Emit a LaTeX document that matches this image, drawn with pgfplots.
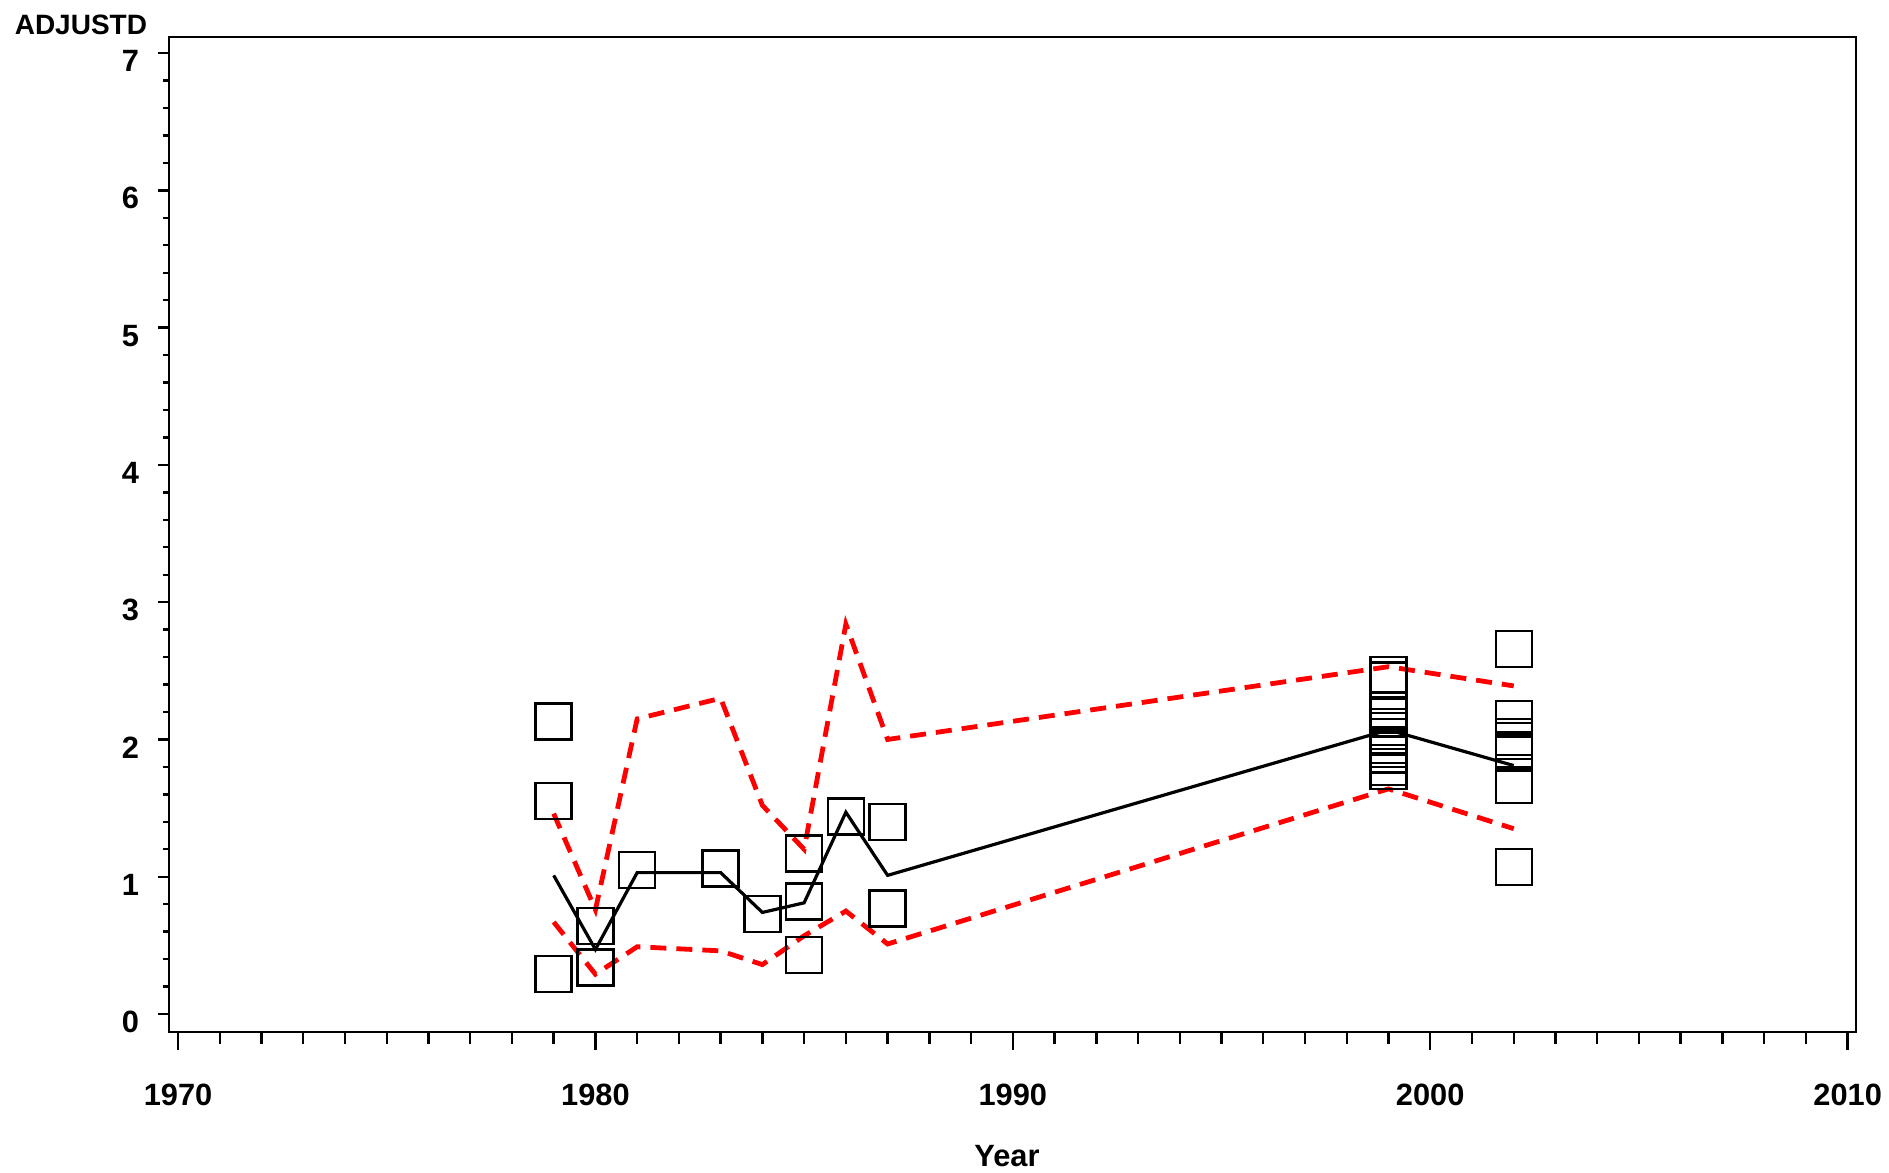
\documentclass[border=0pt]{standalone}
\usepackage{fontspec}
\setmainfont{Liberation Sans}
\usepackage{pgfplots}
\pgfplotsset{compat=1.18}
\begin{document}
\begin{tikzpicture}[x=1pt,y=1pt]
\path[use as bounding box] (0,0) rectangle (472.25,293);
\pgfplotsset{common/.style={
  at={(42.25pt,35pt)}, anchor=south west, scale only axis,
  width=421.75pt, height=248.75pt,
  xmin=1969.784, xmax=2010.2, ymin=-0.131, ymax=7.117,
  tick align=outside,
  /pgf/number format/assume math mode=true,
  /pgf/number format/1000 sep={},
  ticklabel style={font=\bfseries\fontsize{7.7}{8}\selectfont},
  tick style={line width=0.6pt, black},
}}
% axis with data and x ticks
\begin{axis}[common,
  axis line style={line width=0.7pt},
  xtick={1970,1980,1990,2000,2010}, minor x tick num=9, xtick pos=bottom,
  ytick=\empty,
  major tick length=4.5pt, minor tick length=3pt,
  xticklabel style={yshift=-5pt},
  clip=false]
% upper limit
\addplot[red, line width=1.2pt, dash pattern=on 4pt off 2.5pt] coordinates {
(1979,1.46) (1980,0.76) (1981,2.15) (1983,2.30) (1984,1.52) (1985,1.20)
(1986,2.84) (1987,2.00) (1999,2.53) (2002,2.39)};
% lower limit
\addplot[red, line width=1.2pt, dash pattern=on 4pt off 2.5pt] coordinates {
(1979,0.67) (1980,0.29) (1981,0.49) (1983,0.46) (1984,0.36) (1985,0.57)
(1986,0.75) (1987,0.51) (1999,1.64) (2002,1.35)};
% mean line
\addplot[black, line width=0.8pt] coordinates {
(1979,1.01) (1980,0.47) (1981,1.03) (1983,1.03) (1984,0.74) (1985,0.81)
(1986,1.47) (1987,1.01) (1999,2.07) (2002,1.81)};
% observations
\addplot[only marks, mark=square, mark size=4.5pt, mark options={black, line width=0.6pt}] coordinates {
(1979,2.13) (1979,1.55) (1979,0.29)
(1980,0.64) (1980,0.34)
(1981,1.05)
(1983,1.06)
(1984,0.73)
(1985,1.17) (1985,0.82) (1985,0.43)
(1986,1.44)
(1987,1.40) (1987,0.77)
(1999,2.47) (1999,2.43) (1999,2.21) (1999,2.18) (1999,2.09) (1999,2.06)
(1999,2.02) (1999,1.96) (1999,1.93) (1999,1.89) (1999,1.80) (1999,1.77)
(2002,2.66) (2002,2.15) (2002,2.02) (2002,1.99) (2002,1.92) (2002,1.90)
(2002,1.67) (2002,1.07)};
\end{axis}
% axis with y ticks only
\begin{axis}[common,
  axis line style={draw=none},
  xtick=\empty,
  ytick={0,1,...,7}, minor y tick num=4, ytick pos=left,
  major tick length=2.75pt, minor tick length=1.5pt,
  yticklabel style={xshift=-1.2pt, yshift=-2pt}]
\end{axis}
\node[anchor=west, inner sep=0pt, font=\bfseries\fontsize{7}{8}\selectfont] at (3.5,286.75) {ADJUSTD};
\node[anchor=center, inner sep=0pt, font=\bfseries\fontsize{7.7}{8}\selectfont] at (251.75,4) {Year};
\end{tikzpicture}
\end{document}
